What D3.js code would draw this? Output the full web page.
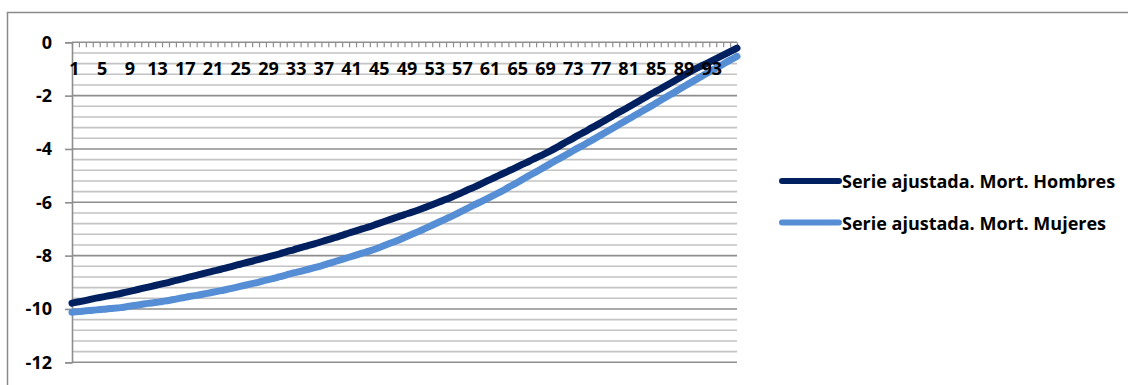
<!DOCTYPE html>
<html>
<head>
<meta charset="utf-8">
<script src="https://cdn.jsdelivr.net/npm/d3@7"></script>
<style>
  body { margin: 0; background: #fff; }
  text { font-family: "Open Sans", "Liberation Sans", sans-serif; font-weight: bold; fill: #000; }
</style>
</head>
<body>
<div id="chart"></div>
<script>
// ages 1..97
const categories = d3.range(1, 98);

const xTickLabels = [1, 5, 9, 13, 17, 21, 25, 29, 33, 37, 41, 45, 49, 53, 57, 61, 65, 69, 73, 77, 81, 85, 89, 93];

const yTicks = [0, -2, -4, -6, -8, -10, -12];

const hombres = [
  -9.78, -9.73, -9.68, -9.62, -9.57, -9.52, -9.47, -9.42, -9.36, -9.30,
  -9.24, -9.18, -9.12, -9.06, -9.00, -8.93, -8.87, -8.80, -8.74, -8.67,
  -8.61, -8.54, -8.48, -8.41, -8.34, -8.27, -8.21, -8.14, -8.07, -8.00,
  -7.93, -7.85, -7.78, -7.70, -7.63, -7.56, -7.48, -7.40, -7.32, -7.24,
  -7.15, -7.07, -6.99, -6.91, -6.82, -6.73, -6.64, -6.55, -6.46, -6.38,
  -6.29, -6.19, -6.09, -5.99, -5.89, -5.78, -5.67, -5.55, -5.44, -5.32,
  -5.19, -5.07, -4.95, -4.83, -4.71, -4.58, -4.46, -4.33, -4.21, -4.08,
  -3.94, -3.79, -3.65, -3.50, -3.36, -3.21, -3.07, -2.92, -2.77, -2.62,
  -2.48, -2.33, -2.18, -2.03, -1.88, -1.74, -1.59, -1.44, -1.29, -1.14,
  -1.00, -0.87, -0.74, -0.61, -0.48, -0.35, -0.22
];

const mujeres = [
  -10.12, -10.10, -10.07, -10.05, -10.02, -10.00, -9.97, -9.95, -9.91, -9.87,
  -9.83, -9.79, -9.76, -9.72, -9.68, -9.63, -9.58, -9.53, -9.49, -9.44,
  -9.39, -9.34, -9.29, -9.23, -9.17, -9.11, -9.05, -8.99, -8.92, -8.86,
  -8.79, -8.72, -8.65, -8.59, -8.52, -8.45, -8.38, -8.30, -8.22, -8.14,
  -8.06, -7.98, -7.90, -7.82, -7.73, -7.63, -7.53, -7.43, -7.32, -7.21,
  -7.10, -6.98, -6.86, -6.74, -6.62, -6.50, -6.37, -6.24, -6.11, -5.98,
  -5.85, -5.72, -5.59, -5.44, -5.30, -5.15, -5.00, -4.86, -4.71, -4.56,
  -4.41, -4.27, -4.12, -3.97, -3.83, -3.68, -3.53, -3.38, -3.23, -3.08,
  -2.93, -2.78, -2.63, -2.48, -2.33, -2.17, -2.02, -1.87, -1.71, -1.56,
  -1.41, -1.26, -1.11, -0.97, -0.82, -0.67, -0.53
];

const seriesNames = ["Serie ajustada. Mort. Hombres", "Serie ajustada. Mort. Mujeres"];
const seriesColors = ["#002060", "#558ed5"];

const width = 1128;
const height = 385;
const plot = {left: 72, right: 737, top: 42.3, bottom: 362.3};
const fontSize = '18px';

const svg = d3.select('#chart')
  .append('svg')
  .attr('width', width)
  .attr('height', height);

// chart border
svg.append('rect')
  .attr('x', 7.5)
  .attr('y', 12.5)
  .attr('width', width)
  .attr('height', height)
  .attr('fill', 'none')
  .attr('stroke', '#8a8a8a')
  .attr('stroke-width', 1.5);

const x = d3.scaleLinear()
  .domain([1, categories.length])
  .range([plot.left, plot.right]);

const y = d3.scaleLinear()
  .domain([-12, 0])
  .range([plot.bottom, plot.top]);

// minor gridlines every 0.4
const minor = d3.range(-12, 0.001, 0.4).filter(v => Math.abs(v / 2 - Math.round(v / 2)) > 0.01);
svg.append('g')
  .selectAll('line')
  .data(minor)
  .join('line')
  .attr('x1', plot.left)
  .attr('x2', plot.right)
  .attr('y1', d => y(d))
  .attr('y2', d => y(d))
  .attr('stroke', '#c3c3c3')
  .attr('stroke-width', 1.6);

// major gridlines
svg.append('g')
  .selectAll('line')
  .data(yTicks.filter(d => d !== 0))
  .join('line')
  .attr('x1', plot.left)
  .attr('x2', plot.right)
  .attr('y1', d => y(d))
  .attr('y2', d => y(d))
  .attr('stroke', '#8e8e8e')
  .attr('stroke-width', 1.6);

// y axis
const yAxis = svg.append('g')
  .attr('transform', `translate(${plot.left},0)`)
  .call(d3.axisLeft(y).tickValues(yTicks).tickSize(7).tickPadding(13).tickFormat(d => String(d)));
yAxis.selectAll('.domain, line').attr('stroke', '#8e8e8e').attr('stroke-width', 1.6);
yAxis.selectAll('text')
  .style('font-size', fontSize)
  .style('font-family', '"Open Sans", sans-serif')
  .style('font-weight', 'bold')
  .attr('fill', '#000');

// category axis crosses at 0 (top), ticks pointing down
const xAxis = svg.append('g')
  .attr('transform', `translate(0,${y(0)})`)
  .call(d3.axisBottom(x).tickValues(categories).tickSize(5).tickFormat(''));
xAxis.select('.domain').remove();
xAxis.selectAll('line').attr('stroke', '#8e8e8e').attr('stroke-width', 1.2);
xAxis.append('line')
  .attr('x1', plot.left)
  .attr('x2', plot.right)
  .attr('stroke', '#8e8e8e')
  .attr('stroke-width', 1.6);

// series
const line = d3.line()
  .x((d, i) => x(categories[i]))
  .y(d => y(d))
  .curve(d3.curveMonotoneX);

[hombres, mujeres].forEach((s, i) => {
  svg.append('path')
    .datum(s)
    .attr('d', line)
    .attr('fill', 'none')
    .attr('stroke', seriesColors[i])
    .attr('stroke-width', 7)
    .attr('stroke-linecap', 'round')
    .attr('stroke-linejoin', 'round');
});

// category labels sit on top of the lines
svg.append('g')
  .selectAll('text')
  .data(xTickLabels)
  .join('text')
  .attr('x', d => x(d) + 2.5)
  .attr('y', 75)
  .attr('text-anchor', 'middle')
  .style('font-size', fontSize)
  .text(d => d);

// legend
const legend = svg.append('g')
  .selectAll('g')
  .data(seriesNames)
  .join('g')
  .attr('transform', (d, i) => `translate(782,${181 + i * 41.5})`);

legend.append('line')
  .attr('x1', 0)
  .attr('x2', 57)
  .attr('stroke', (d, i) => seriesColors[i])
  .attr('stroke-width', 6)
  .attr('stroke-linecap', 'round');

legend.append('text')
  .attr('x', 60)
  .attr('y', 7)
  .style('font-size', fontSize)
  .text(d => d);
</script>
</body>
</html>
